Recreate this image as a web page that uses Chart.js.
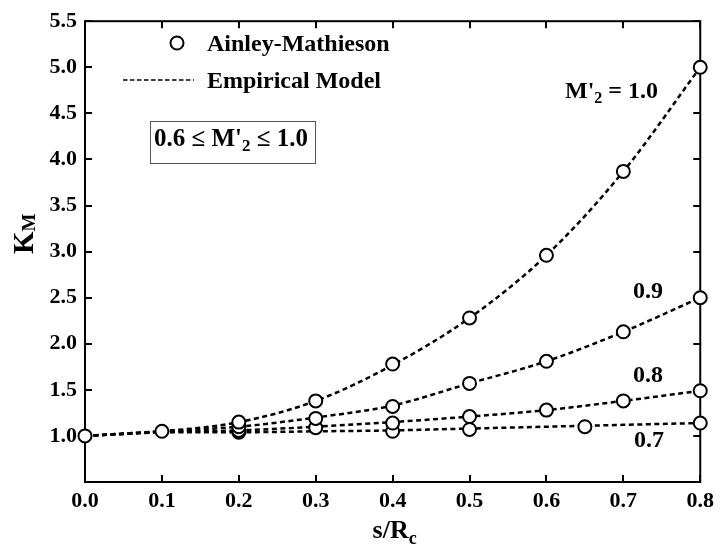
<!DOCTYPE html>
<html>
<head>
<meta charset="utf-8">
<script src="https://cdn.jsdelivr.net/npm/chart.js@4.4.1/dist/chart.umd.min.js"></script>
<style>
  html, body { margin: 0; padding: 0; background: #fff; }
</style>
</head>
<body>
<canvas id="kmChart" width="720" height="548"></canvas>
<script>
// s/Rc positions of the empirical model curves
const sModel = [0, 0.1, 0.2, 0.3, 0.4, 0.5, 0.6, 0.7, 0.8];
// empirical model, one curve per exit Mach number
const model10 = [1.0, 1.05, 1.15, 1.38, 1.77, 2.28, 2.96, 3.87, 5.0];
const model09 = [1.0, 1.05, 1.10, 1.20, 1.33, 1.57, 1.81, 2.13, 2.50];
const model08 = [1.0, 1.04, 1.06, 1.10, 1.15, 1.21, 1.28, 1.38, 1.49];
const model07 = [1.0, 1.04, 1.04, 1.05, 1.06, 1.08, 1.10, 1.12, 1.14];

// Ainley-Mathieson points
const am10S = [0, 0.1, 0.2, 0.3, 0.4, 0.5, 0.6, 0.7, 0.8];
const am10K = [1.0, 1.05, 1.15, 1.38, 1.78, 2.28, 2.96, 3.87, 5.0];
const am09S = [0.2, 0.3, 0.4, 0.5, 0.6, 0.7, 0.8];
const am09K = [1.10, 1.19, 1.32, 1.57, 1.81, 2.13, 2.50];
const am08S = [0.2, 0.3, 0.4, 0.5, 0.6, 0.7, 0.8];
const am08K = [1.06, 1.09, 1.14, 1.21, 1.28, 1.38, 1.49];
const am07S = [0.2, 0.4, 0.5, 0.65, 0.8];
const am07K = [1.04, 1.05, 1.07, 1.10, 1.14];

const xTicks = [0, 0.1, 0.2, 0.3, 0.4, 0.5, 0.6, 0.7, 0.8];
const yTicks = [0.5, 1.0, 1.5, 2.0, 2.5, 3.0, 3.5, 4.0, 4.5, 5.0, 5.5];

const serif = "'Liberation Serif', 'Times New Roman', serif";

function pairs(xs, ys) {
    return xs.map((x, i) => ({ x: x, y: ys[i] }));
}

function modelSet(ys) {
    return {
        data: pairs(sModel, ys),
        showLine: true,
        order: 2,
        borderColor: '#000',
        borderWidth: 2.5,
        borderDash: [5, 3.5],
        cubicInterpolationMode: 'monotone',
        pointRadius: 0,
        clip: false
    };
}

function pointSet(xs, ys) {
    return {
        data: pairs(xs, ys),
        showLine: false,
        order: 1,
        pointStyle: 'circle',
        pointRadius: 6.5,
        pointBorderWidth: 2,
        pointBorderColor: '#000',
        pointBackgroundColor: '#fff',
        clip: false
    };
}

// draws text pieces one after another (for subscripts)
function richText(ctx, parts, x, y) {
    let cx = x;
    parts.forEach(p => {
        ctx.font = 'bold ' + p.size + 'px ' + serif;
        ctx.fillText(p.t, cx, y + (p.dy || 0));
        cx += ctx.measureText(p.t).width;
    });
}

function richWidth(ctx, parts) {
    let w = 0;
    parts.forEach(p => {
        ctx.font = 'bold ' + p.size + 'px ' + serif;
        w += ctx.measureText(p.t).width;
    });
    return w;
}

const decor = {
    id: 'decor',
    beforeDatasetsDraw(chart) {
        const ctx = chart.ctx;
        const a = chart.chartArea;
        const xs = chart.scales.x, ys = chart.scales.y;
        ctx.save();
        ctx.strokeStyle = '#000';
        ctx.lineWidth = 2;
        ctx.strokeRect(a.left, a.top, a.right - a.left, a.bottom - a.top);
        ctx.beginPath();
        xTicks.forEach(v => {
            const px = Math.round(xs.getPixelForValue(v));
            ctx.moveTo(px, a.bottom); ctx.lineTo(px, a.bottom - 7);
            ctx.moveTo(px, a.top); ctx.lineTo(px, a.top + 7);
        });
        yTicks.forEach(v => {
            const py = Math.round(ys.getPixelForValue(v));
            ctx.moveTo(a.left, py); ctx.lineTo(a.left + 7, py);
            ctx.moveTo(a.right, py); ctx.lineTo(a.right - 7, py);
        });
        ctx.stroke();
        ctx.restore();
    },
    afterDraw(chart) {
        const ctx = chart.ctx;
        ctx.save();
        ctx.fillStyle = '#000';
        ctx.textAlign = 'left';
        ctx.textBaseline = 'alphabetic';

        // legend
        ctx.beginPath();
        ctx.arc(177, 43, 6.5, 0, Math.PI * 2);
        ctx.fillStyle = '#fff';
        ctx.fill();
        ctx.lineWidth = 2;
        ctx.strokeStyle = '#000';
        ctx.stroke();
        ctx.fillStyle = '#000';
        richText(ctx, [{ t: 'Ainley-Mathieson', size: 24 }], 207, 51);
        ctx.beginPath();
        ctx.setLineDash([4.5, 2.5]);
        ctx.lineWidth = 1.5;
        ctx.moveTo(123, 80);
        ctx.lineTo(194, 80);
        ctx.stroke();
        ctx.setLineDash([]);
        richText(ctx, [{ t: 'Empirical Model', size: 24 }], 207, 88);

        // range box
        ctx.strokeStyle = '#555';
        ctx.lineWidth = 1;
        ctx.strokeRect(150.5, 121.5, 165, 42);
        richText(ctx, [
            { t: '0.6 \u2264 M\'', size: 25 },
            { t: '2', size: 17, dy: 5 },
            { t: ' \u2264 1.0', size: 25 }
        ], 154, 146);

        // curve labels
        richText(ctx, [
            { t: 'M\'', size: 24 },
            { t: '2', size: 16, dy: 5 },
            { t: ' = 1.0', size: 24 }
        ], 565, 98);
        richText(ctx, [{ t: '0.9', size: 24 }], 633, 298);
        richText(ctx, [{ t: '0.8', size: 24 }], 633, 382);
        richText(ctx, [{ t: '0.7', size: 24 }], 634, 447);

        // x axis title
        const xt = [{ t: 's/R', size: 26 }, { t: 'c', size: 18, dy: 6 }];
        const a = chart.chartArea;
        richText(ctx, xt, (a.left + a.right) / 2 - richWidth(ctx, xt) / 2 + 2, 538);

        // y axis title
        ctx.translate(33, 254);
        ctx.rotate(-Math.PI / 2);
        richText(ctx, [{ t: 'K', size: 29 }, { t: 'M', size: 19, dy: 2 }], 0, 0);
        ctx.restore();
    }
};

const ctx = document.getElementById('kmChart').getContext('2d');
new Chart(ctx, {
    type: 'scatter',
    data: {
        datasets: [
            modelSet(model10), modelSet(model09), modelSet(model08), modelSet(model07),
            pointSet(am10S, am10K), pointSet(am09S, am09K),
            pointSet(am08S, am08K), pointSet(am07S, am07K)
        ]
    },
    options: {
        responsive: false,
        animation: false,
        layout: { padding: { top: 15, right: 16, left: 0, bottom: 0 } },
        plugins: {
            legend: { display: false },
            tooltip: { enabled: false }
        },
        scales: {
            x: {
                type: 'linear',
                min: 0,
                max: 0.8,
                afterFit: s => { s.height = 66; },
                afterBuildTicks: s => { s.ticks = xTicks.map(v => ({ value: v })); },
                grid: { display: false, drawTicks: false },
                border: { display: false },
                ticks: {
                    color: '#000',
                    padding: 6,
                    font: { family: serif, size: 22, weight: 'bold' },
                    callback: v => v.toFixed(1)
                }
            },
            y: {
                type: 'linear',
                min: 0.5,
                max: 5.5,
                afterFit: s => { s.width = 85; },
                afterBuildTicks: s => { s.ticks = yTicks.map(v => ({ value: v })); },
                grid: { display: false, drawTicks: false },
                border: { display: false },
                ticks: {
                    color: '#000',
                    padding: 8,
                    font: { family: serif, size: 22, weight: 'bold' },
                    callback: v => (v === 0.5 ? '' : v.toFixed(1))
                }
            }
        }
    },
    plugins: [decor]
});
</script>
</body>
</html>
